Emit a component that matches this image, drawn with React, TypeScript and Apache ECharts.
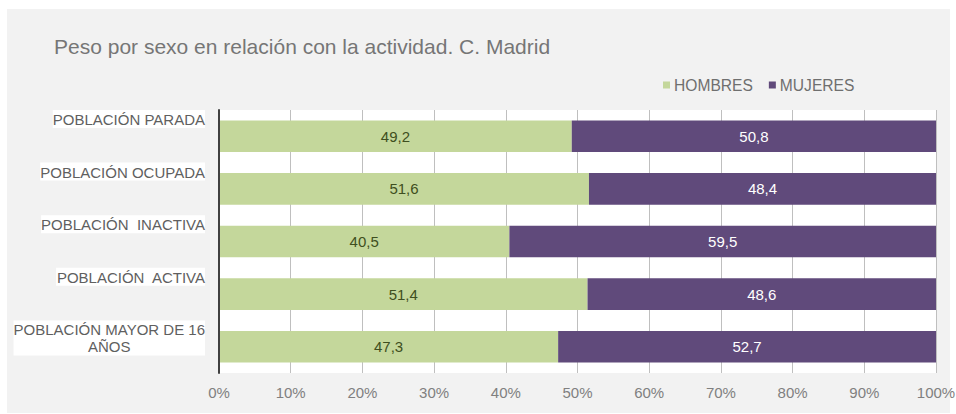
import React, { useEffect, useRef } from "react";
import * as echarts from "echarts";

const categories = [
  "POBLACIÓN PARADA",
  "POBLACIÓN OCUPADA",
  "POBLACIÓN  INACTIVA",
  "POBLACIÓN  ACTIVA",
  "POBLACIÓN MAYOR DE 16\nAÑOS",
];
const hombres = [49.2, 51.6, 40.5, 51.4, 47.3];
const mujeres = [50.8, 48.4, 59.5, 48.6, 52.7];
const xTicks = { min: 0, max: 100, interval: 10 };
const title = "Peso por sexo en relación con la actividad. C. Madrid";

const FONT = "'Liberation Sans', Arial, sans-serif";
const fmt = (v: number) => v.toFixed(1).replace(".", ",");

export default function App() {
  const ref = useRef<HTMLDivElement>(null);
  useEffect(() => {
    if (!ref.current) return;
    const chart = echarts.init(ref.current, undefined, { renderer: "svg" });
    const labelFormatter = (v: string) => {
      if (!v) return "";
      const parts = v.split("\n");
      if (parts.length === 1) return "{a|" + v + "}";
      return "{a|" + parts[0] + "}\n{b|" + parts[1] + "}";
    };
    chart.setOption({
      animation: false,
      backgroundColor: "#ffffff",
      textStyle: { fontFamily: FONT },
      graphic: [
        {
          type: "rect",
          z: -10,
          shape: { x: 7, y: 9, width: 943, height: 404 },
          style: { fill: "#f2f2f2" },
          silent: true,
        },
      ],
      title: {
        text: title,
        left: 49,
        top: 31,
        textStyle: { color: "#767676", fontSize: 21, fontWeight: "normal", fontFamily: FONT },
      },
      legend: {
        data: ["HOMBRES", "MUJERES"],
        left: 658,
        top: 72,
        icon: "rect",
        itemWidth: 7,
        itemHeight: 7,
        itemGap: 16,
        textStyle: { color: "#6f6f6f", fontSize: 15.6, fontFamily: FONT, padding: [0, 0, 0, -1] },
      },
      grid: {
        left: 219,
        right: 20,
        top: 110,
        bottom: 41,
        show: true,
        backgroundColor: "#ffffff",
        borderWidth: 0,
        outerBoundsMode: "none",
        containLabel: false,
      },
      xAxis: {
        type: "value",
        min: xTicks.min,
        max: xTicks.max,
        interval: xTicks.interval,
        axisLine: { show: false },
        axisTick: { show: false },
        axisLabel: {
          formatter: "{value}%",
          color: "#808080",
          fontSize: 15,
          margin: 12,
          fontFamily: FONT,
        },
        splitLine: { show: true, lineStyle: { color: "#bfbfbf", width: 1 } },
      },
      yAxis: [
        {
          type: "category",
          data: categories,
          inverse: true,
          axisLabel: { show: false },
          axisTick: { show: false },
          axisLine: { show: true, lineStyle: { color: "#404040", width: 2 } },
          z: 5,
        },
        {
          type: "category",
          data: [...categories, ""],
          inverse: true,
          boundaryGap: false,
          position: "left",
          axisLine: { show: false },
          axisTick: { show: false },
          splitLine: { show: false },
          axisLabel: {
            interval: 0,
            margin: 14,
            align: "right",
            verticalAlign: "top",
            backgroundColor: "#ffffff",
            padding: [1, 0, 0, 0],
            formatter: labelFormatter,
            rich: {
              a: { color: "#5f5f5f", fontSize: 15, lineHeight: 17, fontFamily: FONT },
              b: { color: "#5f5f5f", fontSize: 15, lineHeight: 17, fontFamily: FONT, align: "center" },
            },
          },
        },
      ],
      series: [
        {
          name: "HOMBRES",
          type: "bar",
          stack: "total",
          yAxisIndex: 0,
          data: hombres,
          barCategoryGap: "40%",
          itemStyle: { color: "#c4d79b" },
          label: {
            show: true,
            position: "inside",
            color: "#3f4f20",
            fontSize: 15,
            fontFamily: FONT,
            formatter: (p: any) => fmt(p.value),
          },
        },
        {
          name: "MUJERES",
          type: "bar",
          stack: "total",
          yAxisIndex: 0,
          data: mujeres,
          barCategoryGap: "40%",
          itemStyle: { color: "#604a7b" },
          label: {
            show: true,
            position: "inside",
            color: "#ffffff",
            fontSize: 15,
            fontFamily: FONT,
            formatter: (p: any) => fmt(p.value),
          },
        },
      ],
    });
    return () => chart.dispose();
  }, []);
  return (
    <div
      ref={ref}
      style={{ position: "absolute", left: 0, top: 0, width: 956, height: 414 }}
    />
  );
}
